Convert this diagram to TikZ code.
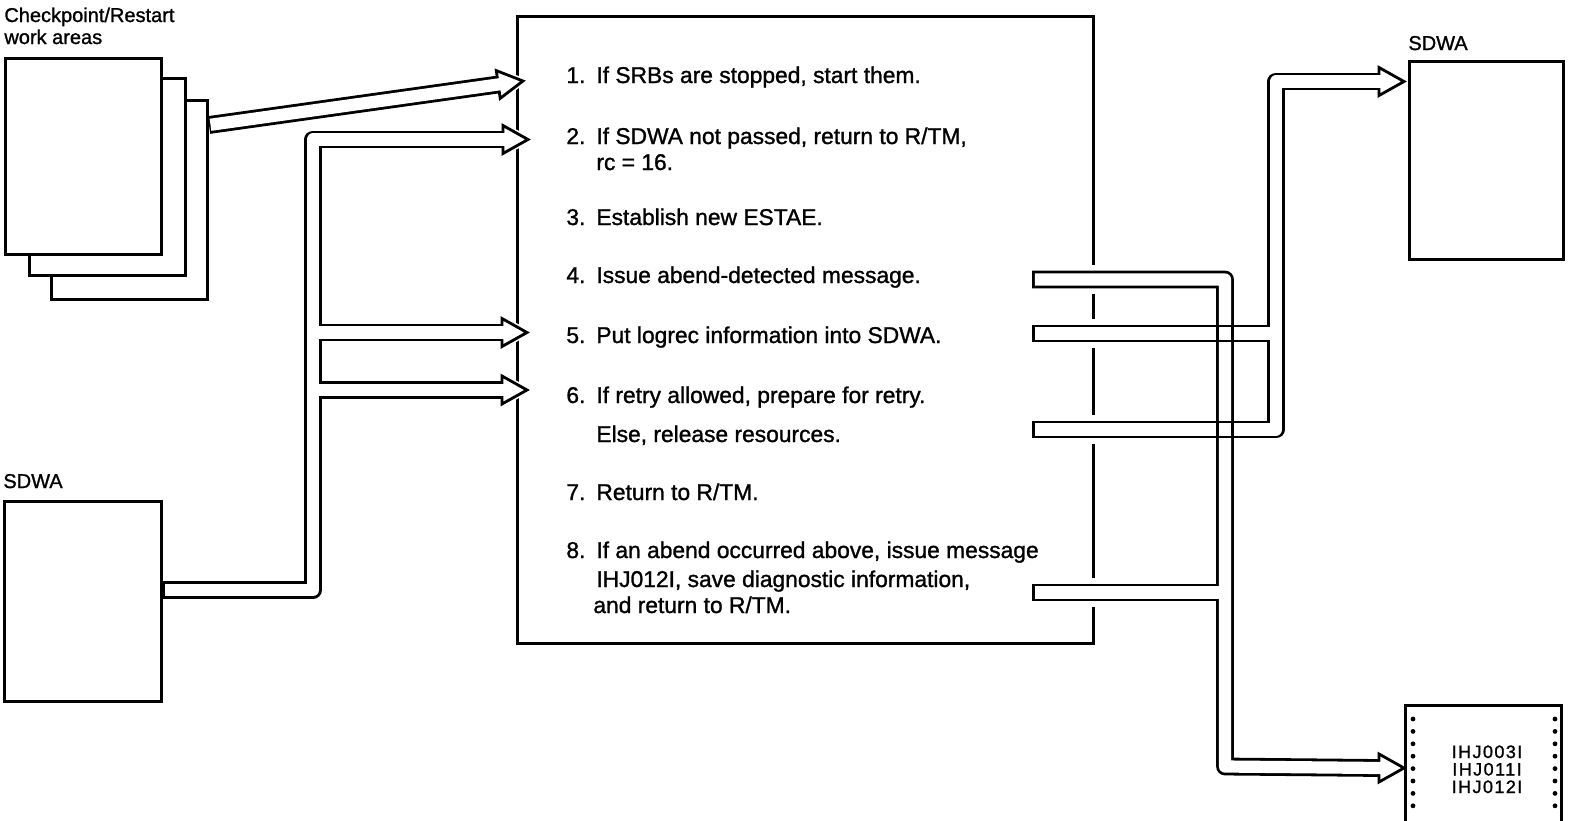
\documentclass[tikz,border=0pt]{standalone}
\usepackage{fontspec}
\setmainfont{Liberation Sans}[FakeBold=1.2]
\newfontfamily\msgfont[LetterSpace=8, FakeBold=1.2]{Liberation Sans}
\usetikzlibrary{positioning, calc}

%% open block-arrow head: #2 = a point on the shaft, #3 = the tip
\newcommand\hollowtip[3][tiphalo]{%
  \coordinate (hb) at ($(#3)!12.5pt!(#2)$);
  \draw[#1] ($(hb)!7pt!90:(#3)$) -- (#3) -- ($(hb)!7pt!-90:(#3)$);
  \draw[tipline] ($(hb)!7pt!90:(#3)$) -- (#3) -- ($(hb)!7pt!-90:(#3)$) -- cycle;
}

\begin{document}
\begin{tikzpicture}[x=0.5pt, y=-0.5pt,
  box/.style={draw, line width=1.5pt, fill=white, inner sep=0pt, anchor=north west},
  lbl/.style={font=\fontsize{10}{12}\selectfont, anchor=base west, inner sep=0pt},
  item/.style={font=\fontsize{11.4}{14}\selectfont, anchor=base west, inner sep=0pt},
  msg/.style={font=\msgfont\fontsize{9}{10}\selectfont, anchor=base, inner sep=0pt},
  pipe/.style={line width=8.9pt, line join=round},
  bore/.style={white, line width=6.1pt, line join=round},
  gap/.style={white, line width=14.9pt},
  tiphalo/.style={white, line width=3pt},
  tipline/.style={draw, fill=white, line width=1.4pt, line join=miter}]
  \useasboundingbox (0,0) rectangle (1569,820);

  %% Checkpoint/Restart work areas (three stacked pages)
  \node[box, minimum width=78pt, minimum height=99.5pt] (ckpt3) at (50,99) {};
  \node[box, minimum width=78pt, minimum height=98.5pt] (ckpt2) at (28,77) {};
  \node[box, minimum width=78pt, minimum height=98pt] (ckpt1) at (4,57) {};
  \node[lbl] (ckptlbl) at (4,22) {Checkpoint/Restart};
  \node[lbl] (ckptlbl2) at (4,44) {work areas};
  %% SDWA passed in
  \node[box, minimum width=78.5pt, minimum height=100pt] (sdwain) at (3,500) {};
  \node[lbl] (sdwainlbl) at (3,488) {SDWA};
  %% Module box
  \node[box, minimum width=288pt, minimum height=313.5pt] (mod) at (516,15) {};
  %% SDWA filled in
  \node[box, minimum width=77pt, minimum height=99pt] (sdwaout) at (1408,60) {};
  \node[lbl] (sdwaoutlbl) at (1408,50) {SDWA};
  %% Message listing
  \node[box, minimum width=78pt, minimum height=62.5pt] (msgs) at (1404,704) {};

  %% Steps
  \node[item] (n1) at (566,83) {1.};
  \node[item] (l1) at (596,83) {If SRBs are stopped, start them.};
  \node[item] (n2) at (566,144) {2.};
  \node[item] (l2) at (596,144) {If SDWA not passed, return to R/TM,};
  \node[item] (l2b) at (596,170) {rc = 16.};
  \node[item] (n3) at (566,225) {3.};
  \node[item] (l3) at (596,225) {Establish new ESTAE.};
  \node[item] (n4) at (566,283) {4.};
  \node[item] (l4) at (596,283) {Issue abend-detected message.};
  \node[item] (n5) at (566,343) {5.};
  \node[item] (l5) at (596,343) {Put logrec information into SDWA.};
  \node[item] (n6) at (566,403) {6.};
  \node[item] (l6) at (596,403) {If retry allowed, prepare for retry.};
  \node[item] (l6b) at (596,442) {Else, release resources.};
  \node[item] (n7) at (566,500) {7.};
  \node[item] (l7) at (596,500) {Return to R/TM.};
  \node[item] (n8) at (566,558) {8.};
  \node[item] (l8) at (596,558) {If an abend occurred above, issue message};
  \node[item] (l8b) at (596,587) {IHJ012I, save diagnostic information,};
  \node[item] (l8c) at (593,613) {and return to R/TM.};

  %% Connector ends
  \coordinate (p3out) at ($(ckpt3.north east)+(0,26)$);
  \coordinate (t1) at (523,81);
  \coordinate (b1) at ($(t1)!12.5pt!(p3out)$);
  \coordinate (sout) at ($(sdwain.north east)+(0,90)$);
  \coordinate (busL) at (313,590);
  \coordinate (t2) at (528,139.5);
  \coordinate (b2) at ($(t2)+(-25,0)$);
  \coordinate (t5) at (527,332.5);
  \coordinate (b5) at ($(t5)+(-25,0)$);
  \coordinate (t6) at (527,390);
  \coordinate (b6) at ($(t6)+(-25,0)$);
  \coordinate (s4) at (1032,279.5);
  \coordinate (s5) at (1032,333.5);
  \coordinate (s6) at (1032,429.5);
  \coordinate (s8) at (1032,592.5);
  \coordinate (bus4) at (1225,766.5);
  \coordinate (bus9) at (1276,81.5);
  \coordinate (t7) at (msgs.west);
  \coordinate (b7) at ($(t7)+(-24,0)$);
  \coordinate (t9) at ($(sdwaout.north west)+(-4,21.5)$);
  \coordinate (b9) at ($(t9)+(-25,0)$);

  %% Breaks in the module box where the outputs leave
  \foreach \s in {s4,s5,s6,s8}
    \draw[gap] ($(\s -| mod.east)+(-12,0)$) -- ++(24,0);

  %% Wide arrows: outline first
  \draw[pipe] (p3out) -- (b1);
  \draw[pipe] (sout) -- (busL) -- (busL |- t2) -- (b2);
  \draw[pipe] (busL |- t5) -- (b5);
  \draw[pipe] (busL |- t6) -- (b6);
  \draw[pipe] (s4) -- (s4 -| bus4) -- (bus4) -- (b7);
  \draw[pipe] (s8) -- (s8 -| bus4);
  \draw[pipe] (s6) -- (s6 -| bus9) -- (bus9) -- (b9);
  \draw[pipe] (s5) -- (s5 -| bus9);
  %% Heads
  \hollowtip{b1}{t1}
  \hollowtip{b2}{t2}
  \hollowtip{b5}{t5}
  \hollowtip{b6}{t6}
  \hollowtip[draw=none]{b7}{t7}
  \hollowtip[draw=none]{b9}{t9}
  %% Hollow insides
  \draw[bore, shorten <=0.75pt, shorten >=-1pt] (p3out) -- (b1);
  \draw[bore, shorten <=0.75pt, shorten >=-1pt] (sout) -- (busL) -- (busL |- t2) -- (b2);
  \draw[bore, shorten >=-1pt] (busL |- t5) -- (b5);
  \draw[bore, shorten >=-1pt] (busL |- t6) -- (b6);
  \draw[bore, shorten <=1.4pt, shorten >=-1pt] (s4) -- (s4 -| bus4) -- (bus4) -- (b7);
  \draw[bore, shorten <=1.4pt] (s8) -- (s8 -| bus4);
  \draw[bore, shorten <=1.4pt, shorten >=-1pt] (s6) -- (s6 -| bus9) -- (bus9) -- (b9);
  \draw[bore, shorten <=1.4pt] (s5) -- (s5 -| bus9);
  %% Crossings of the message arrow
  \foreach \s in {s5,s6}
    \draw[line width=1.4pt] ($(\s -| bus4)+(-7.5,-7.5)$) rectangle ++(15,15);

  %% Listing paper
  \foreach \k in {0,...,7} {
    \fill (1413,{719+12.4*\k}) circle (1.2pt);
    \fill (1555,{719+12.4*\k}) circle (1.2pt);
  }
  \node[msg] (msg1) at (1487,758) {IHJ003I};
  \node[msg] (msg2) at (1487,775.5) {IHJ011I};
  \node[msg] (msg3) at (1487,793) {IHJ012I};
\end{tikzpicture}
\end{document}
